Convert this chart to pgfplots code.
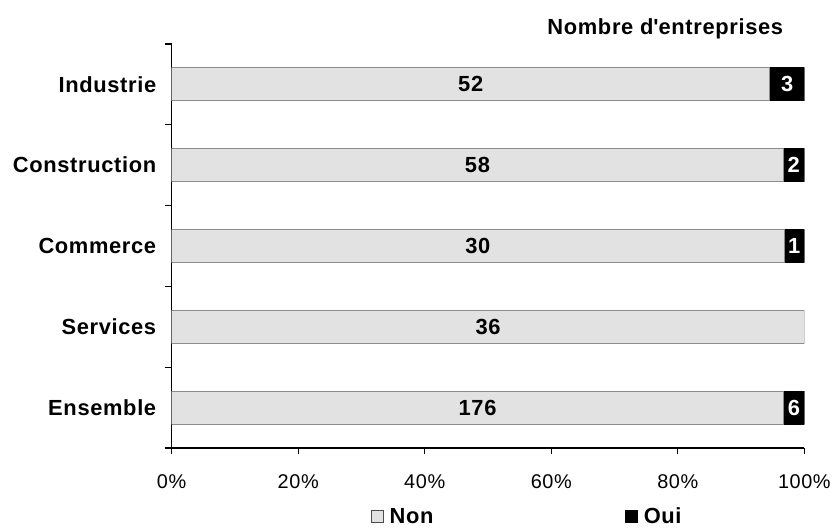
\documentclass[border=0pt]{standalone}
\usepackage{fontspec}
\setmainfont{Liberation Sans}[LetterSpace=3]
\usepackage{pgfplots}
\pgfplotsset{compat=1.18}
\usepackage{pgfplotstable}
\definecolor{nongrey}{HTML}{E2E2E2}
\definecolor{edgegrey}{HTML}{8C8C8C}

% percentages of each category (counts: Non / Oui)
\pgfplotstableread{
y pnon poui
0 94.545 5.455
1 96.667 3.333
2 96.774 3.226
3 100 0
4 96.703 3.297
}\pct
% label positions (segment centres) and counts
\pgfplotstableread{
y cnon non
0 47.27 52
1 48.33 58
2 48.39 30
3 50.00 36
4 48.35 176
}\labnon
\pgfplotstableread{
y coui oui
0 97.27 3
1 98.33 2
2 98.39 1
4 98.35 6
}\laboui

\begin{document}
\begin{tikzpicture}
\begin{axis}[
  name=main,
  xbar stacked,
  width=634bp, height=405bp, scale only axis,
  xmin=0, xmax=100, ymin=-0.5, ymax=4.5, y dir=reverse,
  bar width=33bp,
  axis x line*=bottom, axis y line*=left,
  axis line style={line width=1.6bp, black},
  ytick={0,1,2,3,4},
  yticklabels={Industrie,Construction,Commerce,Services,Ensemble},
  minor ytick={-0.5,0.5,1.5,2.5,3.5,4.5},
  major y tick style={draw=none},
  minor y tick style={line width=1.3bp, black},
  major x tick style={line width=1.3bp, black},
  tick align=outside,
  minor tick length=7bp, major tick length=6bp,
  xtick={0,20,40,60,80,100},
  xticklabel={\pgfmathprintnumber{\tick}\%},
  yticklabel style={font=\bfseries\fontsize{22}{26}\selectfont, xshift=-6bp},
  xticklabel style={font=\fontsize{20}{24}\selectfont, yshift=-17bp},
  /pgf/number format/assume math mode=true,
  title={Nombre d\textquotesingle entreprises},
  title style={at={(0.972,1)}, anchor=base east, yshift=3bp, font=\bfseries\fontsize{22}{26}\selectfont},
  legend columns=2,
  legend style={at={(0.315,-0.17)}, anchor=west, draw=none, fill=none,
    font=\bfseries\fontsize{22}{26}\selectfont,
    /tikz/every even column/.append style={column sep=190bp},
    inner sep=0pt},
]
\addplot[fill=nongrey, draw=edgegrey, line width=0.8bp,
  legend image code/.code={\draw[fill=nongrey, draw=black!70, line width=0.8bp] (0bp,-6bp) rectangle (12bp,6bp);}]
  table[x=pnon, y=y] {\pct};
\addlegendentry{\,Non}
\addplot[fill=black, draw=black, line width=1.2bp,
  legend image code/.code={\draw[fill=black, draw=black] (0bp,-6bp) rectangle (12bp,6bp);}]
  table[x=poui, y=y] {\pct};
\addlegendentry{\,Oui}
\end{axis}
\begin{axis}[
  width=634bp, height=405bp, scale only axis,
  xmin=0, xmax=100, ymin=-0.5, ymax=4.5, y dir=reverse,
  hide axis,
]
\addplot[draw=none, nodes near coords, point meta=explicit symbolic,
  nodes near coords style={anchor=center, font=\bfseries\fontsize{22}{26}\selectfont, text=black}]
  table[x=cnon, y=y, meta=non] {\labnon};
\addplot[draw=none, nodes near coords, point meta=explicit symbolic,
  nodes near coords style={anchor=center, font=\bfseries\fontsize{22}{26}\selectfont, text=white}]
  table[x=coui, y=y, meta=oui] {\laboui};
\end{axis}
\path[use as bounding box] ([shift={(-172bp,-81bp)}]main.south west) rectangle ([shift={(28bp,44bp)}]main.north east);
\end{tikzpicture}
\end{document}
